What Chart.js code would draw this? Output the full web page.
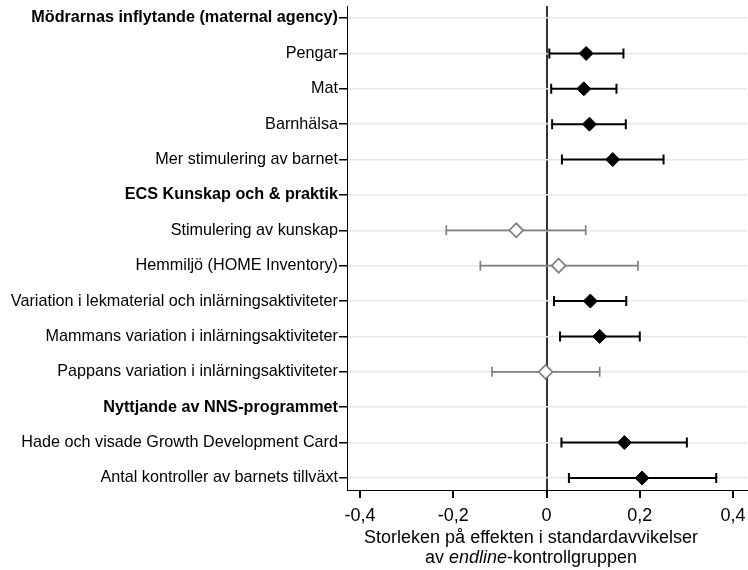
<!DOCTYPE html>
<html>
<head>
<meta charset="utf-8">
<script src="https://cdn.jsdelivr.net/npm/chart.js@4/dist/chart.umd.min.js"></script>
<style>
  html, body { margin: 0; padding: 0; background: #fff; }
  #wrap { width: 748px; height: 570px; }
</style>
</head>
<body>
<div id="wrap"><canvas id="forest" width="748" height="570"></canvas></div>
<script>
// Rader uppifrån och ned
const labels = [
    'Mödrarnas inflytande (maternal agency)',
    'Pengar',
    'Mat',
    'Barnhälsa',
    'Mer stimulering av barnet',
    'ECS Kunskap och & praktik',
    'Stimulering av kunskap',
    'Hemmiljö (HOME Inventory)',
    'Variation i lekmaterial och inlärningsaktiviteter',
    'Mammans variation i inlärningsaktiviteter',
    'Pappans variation i inlärningsaktiviteter',
    'Nyttjande av NNS-programmet',
    'Hade och visade Growth Development Card',
    'Antal kontroller av barnets tillväxt'
];
const headerRows = [0, 5, 11];

// Skattningar och konfidensintervall (null = rubrikrad)
const estimate = [null, 0.085, 0.080, 0.092, 0.142, null, -0.065, 0.026, 0.094, 0.114, -0.002, null, 0.167, 0.205];
const ciLow    = [null, 0.006, 0.010, 0.012, 0.033, null, -0.215, -0.142, 0.016, 0.029, -0.117, null, 0.032, 0.048];
const ciHigh   = [null, 0.165, 0.150, 0.170, 0.251, null, 0.084, 0.196, 0.171, 0.200, 0.114, null, 0.301, 0.364];

const xTicks = [-0.4, -0.2, 0, 0.2, 0.4];

const FONT = "'Liberation Sans', Arial, sans-serif";
const SIG_COLOR = '#000000';
const NS_COLOR = '#808080';

// Signifikant om intervallet inte korsar noll
function isSig(i) {
    return ciLow[i] > 0 || ciHigh[i] < 0;
}

const points = [];
const pointIdx = [];
estimate.forEach((v, i) => {
    if (v !== null) {
        points.push({ x: v, y: i });
        pointIdx.push(i);
    }
});

// Felstaplar ritas med skalornas egna pixelvärden
const errorBars = {
    id: 'errorBars',
    beforeDatasetsDraw(chart) {
        const ctx = chart.ctx;
        const xs = chart.scales.x;
        const ys = chart.scales.y;
        ctx.save();
        pointIdx.forEach(i => {
            const sig = isSig(i);
            const y = ys.getPixelForValue(i);
            const x1 = xs.getPixelForValue(ciLow[i]);
            const x2 = xs.getPixelForValue(ciHigh[i]);
            ctx.strokeStyle = sig ? SIG_COLOR : NS_COLOR;
            ctx.lineWidth = sig ? 2 : 1.7;
            ctx.beginPath();
            ctx.moveTo(x1, y);
            ctx.lineTo(x2, y);
            ctx.moveTo(x1, y - 5);
            ctx.lineTo(x1, y + 5);
            ctx.moveTo(x2, y - 5);
            ctx.lineTo(x2, y + 5);
            ctx.stroke();
        });
        ctx.restore();
    }
};

// Axeltitel med kursivt ord
const axisTitle = {
    id: 'axisTitle',
    afterDraw(chart) {
        const ctx = chart.ctx;
        const cx = 531;
        ctx.save();
        ctx.fillStyle = '#000';
        ctx.textBaseline = 'middle';
        ctx.textAlign = 'center';
        ctx.font = '18px ' + FONT;
        ctx.fillText('Storleken på effekten i standardavvikelser', cx, 538);

        const parts = [
            { t: 'av ', f: '18px ' + FONT },
            { t: 'endline', f: 'italic 18px ' + FONT },
            { t: '-kontrollgruppen', f: '18px ' + FONT }
        ];
        let total = 0;
        parts.forEach(p => { ctx.font = p.f; p.w = ctx.measureText(p.t).width; total += p.w; });
        let x = cx - total / 2;
        ctx.textAlign = 'left';
        parts.forEach(p => {
            ctx.font = p.f;
            ctx.fillText(p.t, x, 558);
            x += p.w;
        });
        ctx.restore();
    }
};

new Chart(document.getElementById('forest'), {
    type: 'scatter',
    data: {
        datasets: [{
            data: points,
            pointStyle: 'rectRot',
            pointRadius: 7,
            pointBorderWidth: pointIdx.map(i => isSig(i) ? 1 : 1.7),
            pointBackgroundColor: pointIdx.map(i => isSig(i) ? SIG_COLOR : '#ffffff'),
            pointBorderColor: pointIdx.map(i => isSig(i) ? SIG_COLOR : NS_COLOR)
        }]
    },
    options: {
        responsive: false,
        animation: false,
        layout: { autoPadding: false, padding: { top: 6, right: 1, left: 0, bottom: 0 } },
        plugins: {
            legend: { display: false },
            tooltip: { enabled: false }
        },
        scales: {
            x: {
                type: 'linear',
                min: -0.428,
                max: 0.43,
                afterBuildTicks: scale => {
                    scale.ticks = xTicks.map(v => ({ value: v }));
                },
                afterFit: scale => {
                    scale.height = 80;
                    scale.paddingLeft = 0;
                    scale.paddingRight = 0;
                },
                ticks: {
                    color: '#000',
                    font: { family: FONT, size: 18 },
                    padding: 7,
                    maxRotation: 0,
                    callback: v => v === 0 ? '0' : String(v).replace('.', ',')
                },
                grid: {
                    color: ctx => (ctx.tick && ctx.tick.value === 0) ? '#333333' : 'rgba(0,0,0,0)',
                    lineWidth: 2,
                    tickColor: '#000',
                    tickLength: 8
                },
                border: { display: true, color: '#000', width: 1 }
            },
            y: {
                type: 'linear',
                reverse: true,
                min: -0.34,
                max: 13.34,
                afterBuildTicks: scale => {
                    scale.ticks = labels.map((l, i) => ({ value: i }));
                },
                afterFit: scale => {
                    scale.width = 347;
                    scale.paddingTop = 0;
                    scale.paddingBottom = 0;
                },
                ticks: {
                    color: '#000',
                    autoSkip: false,
                    padding: 1,
                    font: ctx => ({
                        family: FONT,
                        size: 16.2,
                        weight: headerRows.includes(ctx.tick ? ctx.tick.value : -1) ? 'bold' : 'normal'
                    }),
                    callback: v => labels[v]
                },
                grid: {
                    color: '#e8e8e8',
                    lineWidth: 1.5,
                    tickColor: '#000',
                    tickLength: 8
                },
                border: { display: true, color: '#000', width: 1 }
            }
        }
    },
    plugins: [errorBars, axisTitle]
});
</script>
</body>
</html>
